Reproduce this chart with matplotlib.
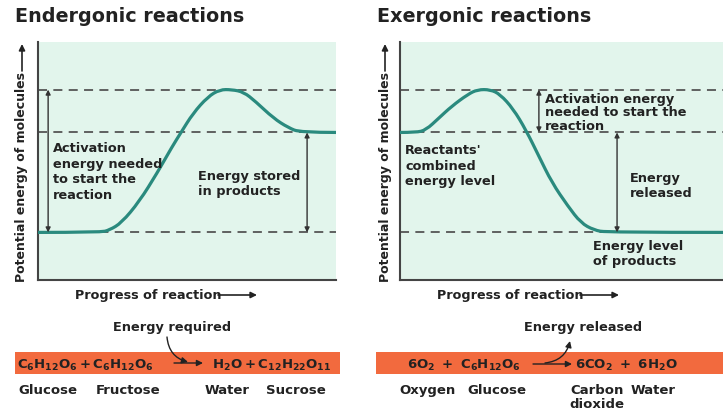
"""
Diagramas de energía: reacciones endergónicas y exergónicas
"""

import matplotlib.pyplot as plt
from matplotlib.patches import Rectangle, FancyArrowPatch, PathPatch
from matplotlib.path import Path

plt.rcParams['font.family'] = ['DejaVu Sans']
plt.rcParams['font.weight'] = 'bold'
plt.rcParams['mathtext.fontset'] = 'dejavusans'

# Niveles de energía (unidades arbitrarias, eje 0-100)
NIVEL_BAJO = 20
NIVEL_MEDIO = 62
NIVEL_ALTO = 80

# Curva endergónica (progreso, energía)
progreso_endo = [0, 21, 24, 28, 34, 40, 45, 48, 52, 57, 61, 65, 69, 73, 79, 84, 88, 100]
energia_endo = [20, 20, 21, 24, 33, 45, 56, 62, 70, 77, 80, 80, 79, 75, 68, 64, 62, 62]

# Curva exergónica (progreso, energía)
progreso_exo = [0, 5, 8, 12, 16, 21, 24, 28, 31, 35, 39, 43, 47, 52, 56, 60, 64, 100]
energia_exo = [62, 62, 63, 68, 73, 78, 80, 80, 78, 72, 63, 52, 41, 31, 24, 21, 20, 20]

W, H = 723, 410
FONDO = '#e2f5ec'
CURVA = '#2a8a7e'
NARANJA = '#f26a3e'
TEXTO = '#222222'


def px(x, y):
    return x / W, 1 - y / H


def curva_suave(xs, ys):
    # Curva B-spline cuadrática usando los puntos leídos como controles
    pts = list(zip(xs, ys))
    verts = [pts[0]]
    codes = [Path.MOVETO]
    for i in range(1, len(pts) - 1):
        fin = pts[i + 1] if i == len(pts) - 2 else ((pts[i][0] + pts[i + 1][0]) / 2,
                                                    (pts[i][1] + pts[i + 1][1]) / 2)
        verts += [pts[i], fin]
        codes += [Path.CURVE3, Path.CURVE3]
    return Path(verts, codes)


fig = plt.figure(figsize=(W / 100, H / 100), dpi=100)


def panel(x0, x1, progreso, energia):
    l, b = px(x0, 281)
    ax = fig.add_axes([l, b, (x1 - x0) / W, (281 - 43) / H])
    ax.set_facecolor(FONDO)
    ax.set_xlim(0, 100)
    ax.set_ylim(0, 100)
    for nivel in (NIVEL_BAJO, NIVEL_MEDIO, NIVEL_ALTO):
        ax.axhline(nivel, color='#555555', lw=1.3, linestyle=(0, (5, 3.5)), zorder=1)
    ax.add_patch(PathPatch(curva_suave(progreso, energia), facecolor='none',
                           edgecolor=CURVA, lw=2.3, capstyle='butt', zorder=3))
    for s in ('top', 'right'):
        ax.spines[s].set_visible(False)
    for s in ('left', 'bottom'):
        ax.spines[s].set_color('#444444')
        ax.spines[s].set_linewidth(1.5)
    ax.set_xticks([])
    ax.set_yticks([])
    return ax


def flecha_doble(ax, x, y0, y1):
    ax.annotate('', xy=(x, y1), xytext=(x, y0),
                arrowprops=dict(arrowstyle='<|-|>', color='#333333', lw=1.0,
                                mutation_scale=7, shrinkA=0, shrinkB=0), zorder=4)


ax1 = panel(38, 336, progreso_endo, energia_endo)
ax2 = panel(400, 723, progreso_exo, energia_exo)

flecha_doble(ax1, 3.4, NIVEL_BAJO, NIVEL_ALTO)
flecha_doble(ax1, 90.3, NIVEL_BAJO, NIVEL_MEDIO)
flecha_doble(ax2, 43, NIVEL_MEDIO, NIVEL_ALTO)
flecha_doble(ax2, 67.2, NIVEL_BAJO, NIVEL_MEDIO)


def texto(x, y, s, size=9.3, ha='left', va='center', ls=1.2, **kw):
    fig.text(*px(x, y), s, fontsize=size, ha=ha, va=va, color=TEXTO,
             fontweight='bold', linespacing=ls, **kw)


def flecha(x0, y0, x1, y1, rad=0.0, lw=1.2):
    fig.add_artist(FancyArrowPatch(
        px(x0, y0), px(x1, y1), transform=fig.transFigure,
        arrowstyle='-|>', mutation_scale=9, color=TEXTO, lw=lw,
        connectionstyle=f'arc3,rad={rad}', shrinkA=0, shrinkB=0))


# Títulos
texto(15, 17, 'Endergonic reactions', size=13.8)
texto(377, 17, 'Exergonic reactions', size=13.8)

# Ejes
for xl, xp in ((22, 75), (385, 437)):
    texto(xl, 177, 'Potential energy of molecules', size=9.0, ha='center', rotation=90)
    flecha(xl, 72, xl, 45)
    texto(xp, 296, 'Progress of reaction', size=9.2)
    flecha(xp + 143, 296, xp + 182, 296)

# Anotaciones del panel izquierdo
texto(53, 172, 'Activation\nenergy needed\nto start the\nreaction', ls=1.25)
texto(198, 184, 'Energy stored\nin products', ls=1.25)

# Anotaciones del panel derecho
texto(545, 113, 'Activation energy\nneeded to start the\nreaction', ls=1.05)
texto(405, 166, "Reactants'\ncombined\nenergy level", ls=1.2)
texto(630, 186, 'Energy\nreleased', ls=1.2)
texto(593, 254, 'Energy level\nof products', ls=1.2)

# Barras de ecuaciones
for x0, x1 in ((15, 340), (376, 723)):
    l, b = px(x0, 375)
    fig.add_artist(Rectangle((l, b), (x1 - x0) / W, 22 / H, transform=fig.transFigure,
                             facecolor=NARANJA, edgecolor='none', zorder=0))

texto(17, 369, r'$\mathbf{C_6H_{12}O_6 + C_6H_{12}O_6}$', size=9.5, va='baseline')
texto(212, 369, r'$\mathbf{H_2O + C_{12}H_{22}O_{11}}$', size=9.5, va='baseline')
flecha(174, 364, 203, 364, lw=1.0)
texto(172, 327, 'Energy required', ha='center')
flecha(167, 338, 188, 363, rad=0.35, lw=1.0)

texto(407, 369, r'$\mathbf{6O_2\ +\ C_6H_{12}O_6}$', size=9.5, va='baseline')
texto(575, 369, r'$\mathbf{6CO_2\ +\ 6H_2O}$', size=9.5, va='baseline')
flecha(533, 365, 572, 365, lw=1.0)
texto(583, 327, 'Energy released', ha='center')
flecha(545, 364, 570, 342, rad=0.35, lw=1.0)

# Nombres
for x, nombre in ((48, 'Glucose'), (128, 'Fructose'), (227, 'Water'), (296, 'Sucrose'),
                  (428, 'Oxygen'), (497, 'Glucose'), (653, 'Water')):
    texto(x, 391, nombre, size=9.5, ha='center')
texto(597, 384, 'Carbon\ndioxide', size=9.5, ha='center', va='top', ls=1.1)

plt.savefig('out.png', dpi=100)
plt.close()
